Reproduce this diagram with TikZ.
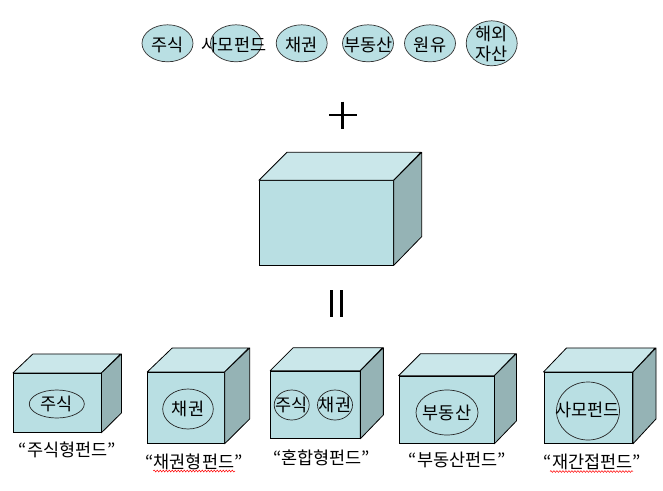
\documentclass[tikz,border=0pt]{standalone}
\usepackage{fontspec}
\newfontfamily\kr{Noto Sans CJK KR}
\usetikzlibrary{decorations.pathmorphing,shapes.geometric}
\definecolor{frontc}{HTML}{B9DFE3}
\definecolor{topc}{HTML}{CAE7EA}
\definecolor{sidec}{HTML}{95B3B5}
\tikzset{
  front/.style={draw=black, line width=0.8pt, fill=frontc, inner sep=0pt, rectangle},
  topface/.style={draw=black, line width=0.8pt, fill=topc, line join=round},
  sideface/.style={draw=black, line width=0.8pt, fill=sidec, line join=round},
  topell/.style={ellipse, draw=black!80, line width=0.7pt, fill=frontc, inner sep=0pt, minimum width=51pt, minimum height=37pt},
  inell/.style={ellipse, draw=black!85, line width=0.7pt, inner sep=0pt},
  txt/.style={font=\kr\fontsize{17.5}{18}\selectfont, inner sep=0pt},
  lbl/.style={font=\kr\fontsize{17.5}{18}\selectfont, inner sep=0pt},
  squig/.style={draw=red, line width=0.5pt, decorate, decoration={snake, amplitude=0.9pt, segment length=3pt}},
  bar/.style={line width=2.8pt, black}
}
% cube: name, cx, cy, W, H, dx, dy
\newcommand{\mycube}[7]{%
  \node[front, minimum width=#4pt, minimum height=#5pt] (#1) at (#2,#3) {};
  \path[topface] (#1.north west) -- ++(#6,-#7) -- ++(#4,0) -- (#1.north east) -- cycle;
  \path[sideface] (#1.north east) -- ++(#6,-#7) -- ++(0,#5) -- (#1.south east) -- cycle;
}
\begin{document}
\begin{tikzpicture}[x=1pt,y=-1pt]
\useasboundingbox[fill=white] (0,0) rectangle (663,490);

% top ellipses
\node[topell] (e1) at (167.5,43.3) {};
\node[txt] (e1t) at (167.5,45) {주식};
\node[topell] (e2) at (236,43.3) {};
\node[txt] (e2t) at (234,45) {사모펀드};
\node[topell] (e3) at (301.7,43.3) {};
\node[txt] (e3t) at (301.7,45) {채권};
\node[topell] (e4) at (368,43.3) {};
\node[txt] (e4t) at (368.5,45) {부동산};
\node[topell] (e5) at (430,43.3) {};
\node[txt] (e5t) at (430,45) {원유};
\node[topell, minimum height=45pt] (e6) at (491.7,43.3) {};
\node[txt, align=center, font=\kr\fontsize{17.5}{20}\selectfont] (e6t) at (491.7,43.5) {해외\\자산};

% plus
\coordinate (pl) at (329.3,115);
\coordinate (pr) at (357.3,115);
\coordinate (pt) at (342.7,101.7);
\coordinate (pb) at (342.7,129.3);
\draw[bar] (pl) -- (pr);
\draw[bar] (pt) -- (pb);

% middle box
\mycube{b0}{326.3}{222.85}{134}{84.3}{28}{28}

% equals bars
\coordinate (q1t) at (331.7,290);
\coordinate (q1b) at (331.7,316.7);
\coordinate (q2t) at (341.7,290);
\coordinate (q2b) at (341.7,316.7);
\draw[bar] (q1t) -- (q1b);
\draw[bar] (q2t) -- (q2b);

% bottom boxes
\mycube{b1}{57.2}{402.8}{87.7}{59}{20}{19}
\mycube{b2}{186}{407.8}{76.6}{71}{25}{24}
\mycube{b3}{315.3}{404.7}{89.3}{67.3}{23}{23}
\mycube{b4}{446.5}{409.7}{95}{67.3}{22}{22}
\mycube{b5}{588.3}{407.8}{88.7}{71}{23}{24}

% inner ellipses
\node[inell, minimum width=55pt, minimum height=28pt] (i1) at (56.8,404) {};
\node[txt] (i1t) at (56.8,404) {주식};
\node[inell, minimum width=50.6pt, minimum height=40pt] (i2) at (188,409) {};
\node[txt] (i2t) at (188,409) {채권};
\node[inell, minimum width=35pt, minimum height=30pt] (i3a) at (291.7,405) {};
\node[txt] (i3at) at (291.7,405) {주식};
\node[inell, minimum width=35pt, minimum height=30pt] (i3b) at (335,405) {};
\node[txt] (i3bt) at (335,405) {채권};
\node[inell, minimum width=62pt, minimum height=45pt] (i4) at (447,412.5) {};
\node[txt] (i4t) at (447,412.5) {부동산};
\node[inell, minimum width=63pt, minimum height=58pt] (i5) at (588,411) {};
\node[txt] (i5t) at (587.5,410) {사모펀드};

% labels
\node[lbl] (l1) at (67.5,450) {“주식형펀드”};
\node[lbl] (l2) at (194,461.7) {“채권형펀드”};
\node[lbl] (l3) at (321.7,458.3) {“혼합형펀드”};
\node[lbl] (l4) at (457.5,460) {“부동산펀드”};
\node[lbl] (l5) at (592.5,461.7) {“재간접펀드”};

% spell-check squiggles
\coordinate (s2a) at (153.3,471);
\coordinate (s2b) at (235,471);
\coordinate (s5a) at (550,471.5);
\coordinate (s5b) at (633,471.5);
\path[squig] (s2a) -- (s2b);
\path[squig] (s5a) -- (s5b);
\end{tikzpicture}
\end{document}
